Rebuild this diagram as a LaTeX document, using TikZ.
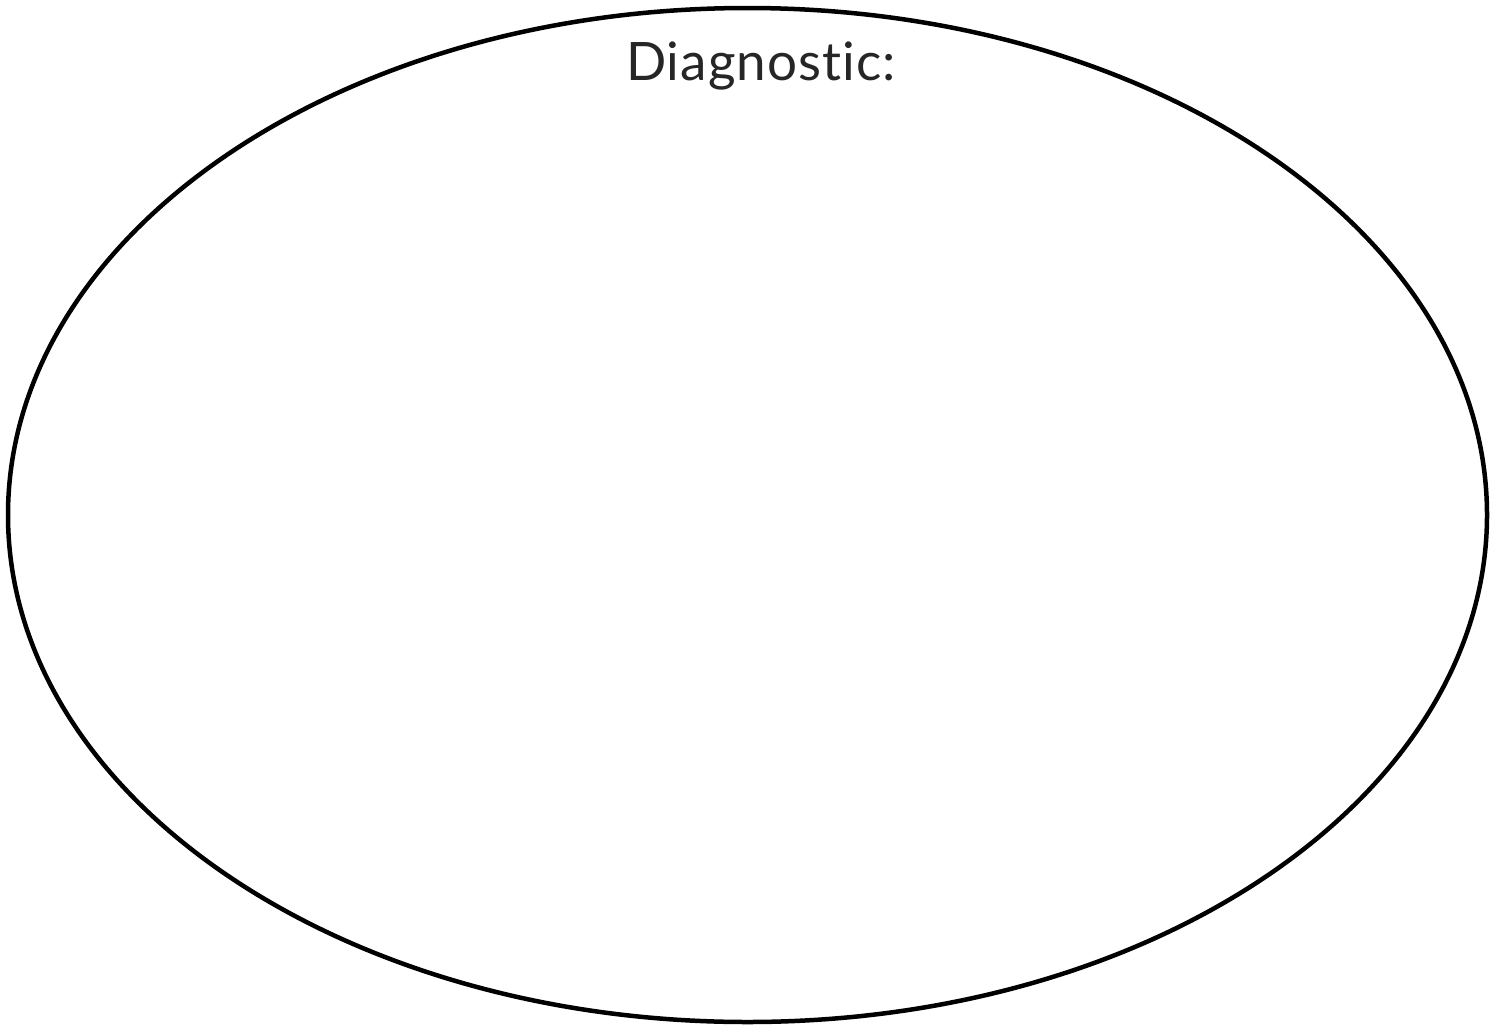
\documentclass[tikz,border=0pt]{standalone}
\usepackage{fontspec}
\setmainfont{Lato}[Ligatures={NoCommon,NoRare},LetterSpace=2]
\usetikzlibrary{shapes.geometric}
\begin{document}
\begin{tikzpicture}[x=1pt,y=-1pt,
  outline/.style={draw=black,line width=4.5pt},
  label/.style={anchor=base,font=\fontsize{53}{60}\selectfont,text=black!85,inner sep=0pt}]
\useasboundingbox (0,0) rectangle (1507,1026);
\node[outline,ellipse,minimum width=1479pt,minimum height=1014pt,inner sep=0pt] (oval) at (747.5,515) {};
\node[label] (title) at (761,80) {Diagnostic:};
\end{tikzpicture}
\end{document}
